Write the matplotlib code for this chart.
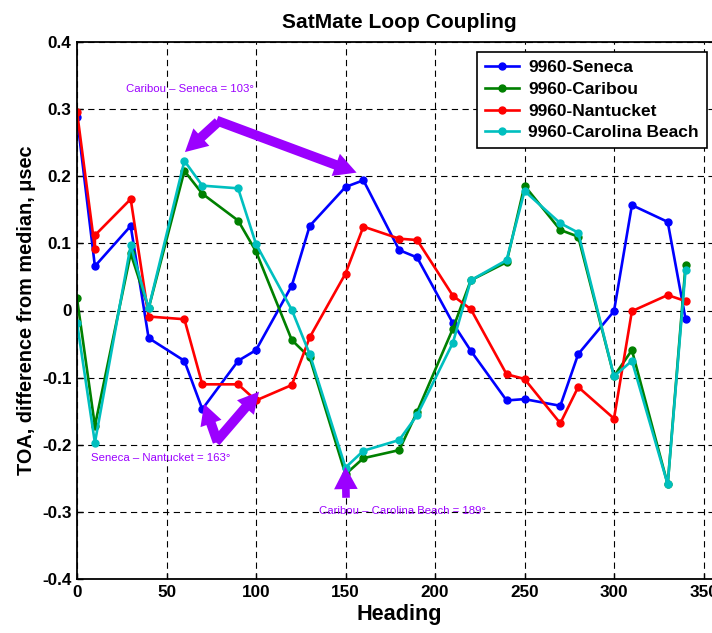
import matplotlib
matplotlib.use("Agg")
import matplotlib.pyplot as plt
from matplotlib import font_manager as fm

# ---------------- data ----------------
headings = [0, 10, 30, 40, 60, 70, 90, 100, 120, 130, 150, 160, 180, 190,
            210, 220, 240, 250, 270, 280, 300, 310, 330, 340]
seneca = [0.288, 0.066, 0.126, -0.041, -0.075, -0.147, -0.075, -0.059, 0.037, 0.126,
          0.184, 0.194, 0.090, 0.079, -0.019, -0.060, -0.134, -0.132, -0.142, -0.065,
          -0.001, 0.157, 0.132, -0.013]
caribou = [0.018, -0.172, 0.085, 0.003, 0.208, 0.174, 0.134, 0.088, -0.044, -0.070,
           -0.244, -0.220, -0.208, -0.151, -0.027, 0.045, 0.072, 0.186, 0.120, 0.110,
           -0.098, -0.059, -0.259, 0.068]
nantucket_headings = [0, 10, 10, 30, 40, 60, 70, 90, 100, 120, 130, 150, 160, 180, 190,
                      210, 220, 240, 250, 270, 280, 300, 310, 330, 340]
nantucket = [0.296, 0.092, 0.112, 0.166, -0.009, -0.013, -0.110, -0.110, -0.134, -0.111,
             -0.040, 0.055, 0.125, 0.107, 0.105, 0.022, 0.002, -0.095, -0.102, -0.168,
             -0.114, -0.161, -0.001, 0.023, 0.014]
carolina = [-0.018, -0.197, 0.097, 0.003, 0.223, 0.186, 0.182, 0.099, 0.001, -0.065,
            -0.234, -0.209, -0.193, -0.156, -0.048, 0.045, 0.075, 0.178, 0.130, 0.116,
            -0.098, -0.075, -0.259, 0.061]
series_labels = ["9960-Seneca", "9960-Caribou", "9960-Nantucket", "9960-Carolina Beach"]
series_colors = ["#0000FF", "#008000", "#FF0000", "#00BFBF"]
yticks = [-0.4, -0.3, -0.2, -0.1, 0, 0.1, 0.2, 0.3, 0.4]
ytick_labels = ["-0.4", "-0.3", "-0.2", "-0.1", "0", "0.1", "0.2", "0.3", "0.4"]
xticks = [0, 50, 100, 150, 200, 250, 300, 350]

# ---------------- fonts ----------------
names = {f.name for f in fm.fontManager.ttflist}
if "Liberation Sans Narrow" in names:
    FAM = ["Liberation Sans Narrow", "DejaVu Sans"]
    k = 1.0
else:
    FAM = ["Liberation Sans", "DejaVu Sans"]
    k = 0.82
plt.rcParams["font.family"] = FAM
plt.rcParams["lines.scale_dashes"] = False

purple = "#9B00FF"

fig = plt.figure(figsize=(7.12, 6.33), dpi=100)
ax = fig.add_axes([77 / 712, 54 / 633, 644.4 / 712, 537 / 633])

lw = 1.9
ms = 5
ax.plot(headings, seneca, "-o", color=series_colors[0], lw=lw, ms=ms, label=series_labels[0])
ax.plot(headings, caribou, "-o", color=series_colors[1], lw=lw, ms=ms, label=series_labels[1])
ax.plot(nantucket_headings, nantucket, "-o", color=series_colors[2], lw=lw, ms=ms, label=series_labels[2])
ax.plot(headings, carolina, "-o", color=series_colors[3], lw=lw, ms=ms, label=series_labels[3])

ax.set_xlim(0, 360)
ax.set_ylim(-0.4, 0.4)
ax.set_xticks(xticks)
ax.set_yticks(yticks)
ax.set_yticklabels(ytick_labels)
ax.grid(True, color="black", linestyle=(0, (4.5, 3.2)), linewidth=0.8)
ax.set_axisbelow(True)
for s in ax.spines.values():
    s.set_linewidth(1.3)
ax.tick_params(direction="in", length=4, width=1, labelsize=15 * k, pad=4)
for t in ax.get_xticklabels() + ax.get_yticklabels():
    t.set_fontweight("bold")

ax.set_title("SatMate Loop Coupling", fontsize=18.5 * k, fontweight="bold", pad=10)
ax.set_xlabel("Heading", fontsize=19 * k, fontweight="bold", labelpad=3)
ax.set_ylabel("TOA, difference from median, \u03bcsec", fontsize=17.5 * k, fontweight="bold", labelpad=4)

leg = ax.legend(loc="upper left", bbox_to_anchor=(477 / 712, 1 - 52 / 633),
                bbox_transform=fig.transFigure, borderaxespad=0, fancybox=False,
                framealpha=1, edgecolor="black", handlelength=1.95, handletextpad=0.55,
                labelspacing=0.38, borderpad=0.45,
                prop={"family": FAM, "weight": "bold", "size": 15.3 * k})
leg.get_frame().set_linewidth(1.2)

# ---------------- annotations ----------------
def arrow(tip, tail, hl, hw, tw):
    ax.annotate("", xy=tip, xytext=tail,
                arrowprops=dict(arrowstyle=f"simple,head_length={hl},head_width={hw},tail_width={tw}",
                                color=purple, shrinkA=0, shrinkB=0, mutation_scale=1, lw=0))

arrow((60.3, 0.236), (78.8, 0.281), 16, 17, 7)
arrow((156.2, 0.2054), (78.0, 0.283), 16, 17, 7)
arrow((71.0, -0.139), (78.5, -0.196), 15, 16, 7)
arrow((101.7, -0.121), (77.5, -0.196), 15, 16, 7)
arrow((150.0, -0.233), (150.3, -0.279), 16, 17, 5.5)

tfs = 10 * k
ax.text(63.1, 0.330, "Caribou \u2013 Seneca = 103\u00b0", color=purple, fontsize=tfs, ha="center", va="center")
ax.text(46.6, -0.220, "Seneca \u2013 Nantucket = 163\u00b0", color=purple, fontsize=tfs, ha="center", va="center")
ax.text(182, -0.299, "Caribou \u2013 Carolina Beach = 189\u00b0", color=purple, fontsize=tfs, ha="center", va="center")

fig.savefig("out.png", dpi=100)
